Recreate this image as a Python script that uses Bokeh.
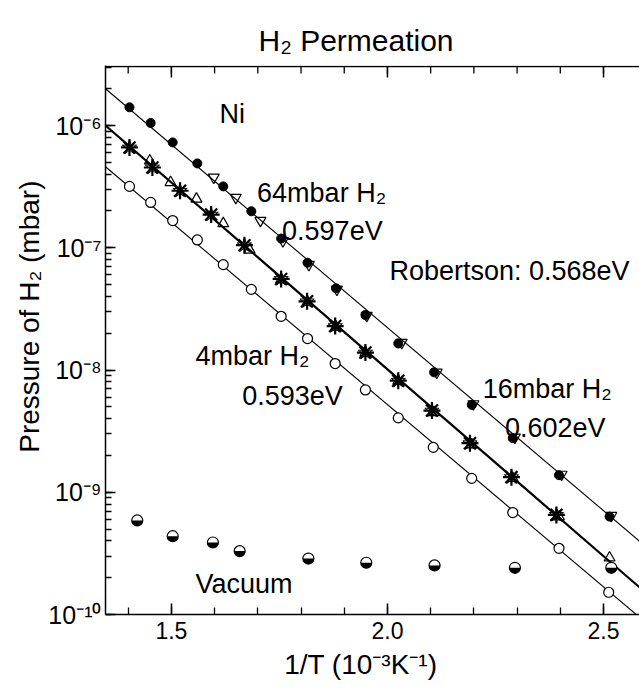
from bokeh.plotting import figure
from bokeh.models import (Range1d, FixedTicker, Label, Span,
                          CustomJSTickFormatter)
from bokeh.embed import file_html
from bokeh.resources import INLINE
import math

FONT = "Liberation Sans"
NB = "\u00a0"

# ---------------- data ----------------
# top line: filled circles
x_filled = [1.403, 1.452, 1.503, 1.560, 1.620, 1.685, 1.754, 1.815, 1.881,
            1.949, 2.025, 2.108, 2.195, 2.290, 2.397, 2.514]
y_filled = [1.41e-6, 1.05e-6, 7.28e-7, 4.90e-7, 3.18e-7, 1.99e-7, 1.19e-7,
            7.55e-8, 4.66e-8, 2.82e-8, 1.65e-8, 9.57e-9, 5.19e-9, 2.77e-9,
            1.38e-9, 6.32e-10]
# top line: open down-triangles
x_down = [1.598, 1.649, 1.706, 1.758, 1.818, 1.883, 1.952, 2.033, 2.114,
          2.199, 2.295, 2.403, 2.518]
y_down = [3.77e-7, 2.58e-7, 1.67e-7, 1.14e-7, 7.28e-8, 4.57e-8, 2.79e-8,
          1.68e-8, 9.57e-9, 5.28e-9, 2.82e-9, 1.40e-9, 6.44e-10]
# middle line: stars
x_star = [1.403, 1.456, 1.520, 1.592, 1.669, 1.754, 1.814, 1.879, 1.949,
          2.025, 2.103, 2.191, 2.287, 2.391]
y_star = [6.62e-7, 4.54e-7, 2.93e-7, 1.87e-7, 1.05e-7, 5.56e-8, 3.65e-8,
          2.29e-8, 1.39e-8, 8.18e-9, 4.66e-9, 2.52e-9, 1.33e-9, 6.53e-10]
# middle line: open up-triangles
x_up = [1.450, 1.498, 1.558, 1.620, 1.681, 1.754, 1.815, 1.881, 1.949,
        2.025, 2.108, 2.195, 2.290, 2.397, 2.514]
y_up = [5.15e-7, 3.43e-7, 2.51e-7, 1.58e-7, 9.60e-8, 5.50e-8, 3.60e-8,
        2.25e-8, 1.38e-8, 8.10e-9, 4.50e-9, 2.45e-9, 1.30e-9, 6.30e-10,
        2.91e-10]
# bottom line: open circles
x_open = [1.403, 1.452, 1.503, 1.560, 1.620, 1.685, 1.754, 1.815, 1.879,
          1.949, 2.025, 2.106, 2.195, 2.290, 2.397, 2.512]
y_open = [3.18e-7, 2.35e-7, 1.67e-7, 1.16e-7, 7.28e-8, 4.57e-8, 2.75e-8,
          1.81e-8, 1.13e-8, 6.87e-9, 4.06e-9, 2.33e-9, 1.30e-9, 6.82e-10,
          3.48e-10, 1.52e-10]
# vacuum: half-filled circles
x_vac = [1.421, 1.503, 1.596, 1.658, 1.817, 1.951, 2.109, 2.295, 2.518]
y_vac = [5.88e-10, 4.37e-10, 3.88e-10, 3.30e-10, 2.87e-10, 2.65e-10,
         2.52e-10, 2.41e-10, 2.41e-10]
# fitted straight lines (values read at the plot edges)
fit_x = [1.3475, 2.5833]
fit_top = [2.0e-6, 3.98e-10]
fit_mid = [1.0e-6, 1.67e-10]
fit_bot = [4.6e-7, 9.5e-11]

# axes
x_ticks = [1.5, 2.0, 2.5]
x_tick_labels = ["1.5", "2.0", "2.5"]
x_minor = [1.4, 1.5, 1.6, 1.7, 1.8, 1.9, 2.0, 2.1, 2.2, 2.3, 2.4, 2.5]
y_ticks = [1e-10, 1e-9, 1e-8, 1e-7, 1e-6]
y_tick_labels = ["10\u207b\u00b9\u2070", "10\u207b\u2079", "10\u207b\u2078",
                 "10\u207b\u2077", "10\u207b\u2076"]
y_minor = [m * d for d in [1e-10, 1e-9, 1e-8, 1e-7, 1e-6]
           for m in (1, 2, 3, 4, 5, 6, 7, 8, 9)]
y_frame_top = 3.04e-6      # upper edge of the original box

# ---------------- figure ----------------
Y0, Y1 = 1e-10, 3.10e-6
FRAME_H = 692 - 65 - 78
p = figure(width=639, height=692,
           x_range=Range1d(1.3475, 2.5833), y_range=Range1d(Y0, Y1),
           y_axis_type="log", output_backend="svg", toolbar_location=None,
           min_border_left=105, min_border_right=0, min_border_top=65,
           min_border_bottom=78, title="H\u2082" + NB + "Permeation")
p.grid.visible = False
p.outline_line_color = None
p.background_fill_color = "white"
p.border_fill_color = "white"

p.title.text_font = FONT
p.title.text_font_size = "30px"
p.title.text_font_style = "normal"
p.title.align = "left"
p.title.offset = 153
p.title.standoff = 17
p.title.text_color = "black"

lin_fmt_code = """
let best = 0, bd = Infinity;
for (let i = 0; i < tvals.length; i++) {
  const d = Math.abs(tvals[i] - tick);
  if (d < bd) { bd = d; best = i; }
}
return tlabels[best];
"""
log_fmt_code = """
let best = 0, bd = Infinity;
for (let i = 0; i < tvals.length; i++) {
  const d = Math.abs(Math.log10(tvals[i]) - Math.log10(tick));
  if (d < bd) { bd = d; best = i; }
}
return tlabels[best];
"""


def style_axis(ax, major=11, minor=7):
    ax.axis_line_width = 1.5
    ax.axis_line_color = "black"
    ax.major_tick_line_color = "black"
    ax.minor_tick_line_color = "black"
    ax.major_tick_line_width = 1.5
    ax.minor_tick_line_width = 1.3
    ax.major_tick_in = major
    ax.major_tick_out = 0
    ax.minor_tick_in = minor
    ax.minor_tick_out = 0
    ax.major_label_text_font = FONT
    ax.major_label_text_color = "black"
    ax.axis_label_text_font = FONT
    ax.axis_label_text_font_style = "normal"
    ax.axis_label_text_color = "black"


xa = p.xaxis[0]
xa.ticker = FixedTicker(ticks=x_ticks, minor_ticks=x_minor)
xa.formatter = CustomJSTickFormatter(args=dict(tvals=x_ticks, tlabels=x_tick_labels),
                                     code=lin_fmt_code)
style_axis(xa)
xa.major_label_text_font_size = "23px"
xa.major_label_standoff = 7
xa.axis_label = "1/T (10\u207b\u00b3K\u207b\u00b9)" + NB * 3
xa.axis_label_text_font_size = "28px"
xa.axis_label_standoff = 7

ya = p.yaxis[0]
ya.ticker = FixedTicker(ticks=y_ticks, minor_ticks=y_minor)
ya.formatter = CustomJSTickFormatter(args=dict(tvals=y_ticks, tlabels=y_tick_labels),
                                     code=log_fmt_code)
style_axis(ya, major=10, minor=6)
ya.major_label_text_font_size = "25px"
ya.major_label_standoff = 4
ya.axis_label = NB * 6 + "Pressure of H\u2082" + NB + "(mbar)"
ya.axis_label_text_font_size = "28px"
ya.axis_label_standoff = 0

# upper edge of the box with inward ticks (same tick values as the x axis)
px_per_decade = FRAME_H / (math.log10(Y1) - math.log10(Y0))
p.add_layout(Span(location=y_frame_top, dimension="width",
                  line_color="black", line_width=1.5))
minor_end = y_frame_top / 10 ** (7 / px_per_decade)
major_end = y_frame_top / 10 ** (11 / px_per_decade)
p.segment(x0=x_minor, y0=[y_frame_top] * len(x_minor),
          x1=x_minor, y1=[minor_end] * len(x_minor),
          line_color="black", line_width=1.3)
p.segment(x0=x_ticks, y0=[y_frame_top] * len(x_ticks),
          x1=x_ticks, y1=[major_end] * len(x_ticks),
          line_color="black", line_width=1.5)

# ---------------- glyphs ----------------
p.line(fit_x, fit_top, line_color="black", line_width=1.1)
p.line(fit_x, fit_mid, line_color="black", line_width=2.2)
p.line(fit_x, fit_bot, line_color="black", line_width=1.1)

p.scatter(x_filled, y_filled, marker="circle", size=9,
          fill_color="black", line_color="black")
p.scatter(x_down, y_down, marker="inverted_triangle", size=11,
          fill_color=None, line_color="black", line_width=1.2)
p.scatter(x_open, y_open, marker="circle", size=10,
          fill_color="white", line_color="black", line_width=1.2)
p.scatter(x_up, y_up, marker="triangle", size=11,
          fill_color=None, line_color="black", line_width=1.2)
p.scatter(x_star, y_star, marker="asterisk", size=17,
          line_color="black", line_width=2.2)
p.scatter(x_star, y_star, marker="star", size=15,
          fill_color=None, line_color="black", line_width=1.0)

p.scatter(x_vac, y_vac, marker="circle", size=11,
          fill_color="white", line_color=None)
p.wedge(x_vac, y_vac, radius=5.5, radius_units="screen",
        start_angle=3.14159, end_angle=6.28318,
        fill_color="black", line_color=None)
p.scatter(x_vac, y_vac, marker="circle", size=11,
          fill_color=None, line_color="black", line_width=1.2)

# ---------------- annotations ----------------
labels = [
    (1.6113, 1.248e-6, "Ni"),
    (1.6983, 2.785e-7, "64mbar H\u2082"),
    (1.7561, 1.361e-7, "0.597eV"),
    (2.0046, 6.41e-8, "Robertson: 0.568eV"),
    (1.5559, 1.311e-8, "4mbar H\u2082"),
    (1.6637, 6.17e-9, "0.593eV"),
    (2.2203, 7.01e-9, "16mbar H\u2082"),
    (2.2718, 3.36e-9, "0.602eV"),
    (1.5559, 1.78e-10, "Vacuum"),
]
for lx, ly, lt in labels:
    p.add_layout(Label(x=lx, y=ly, text=lt, text_font=FONT,
                       text_font_size="27px", text_color="black",
                       text_align="left", text_baseline="alphabetic"))

open("out.html", "w").write(file_html(p, INLINE))
